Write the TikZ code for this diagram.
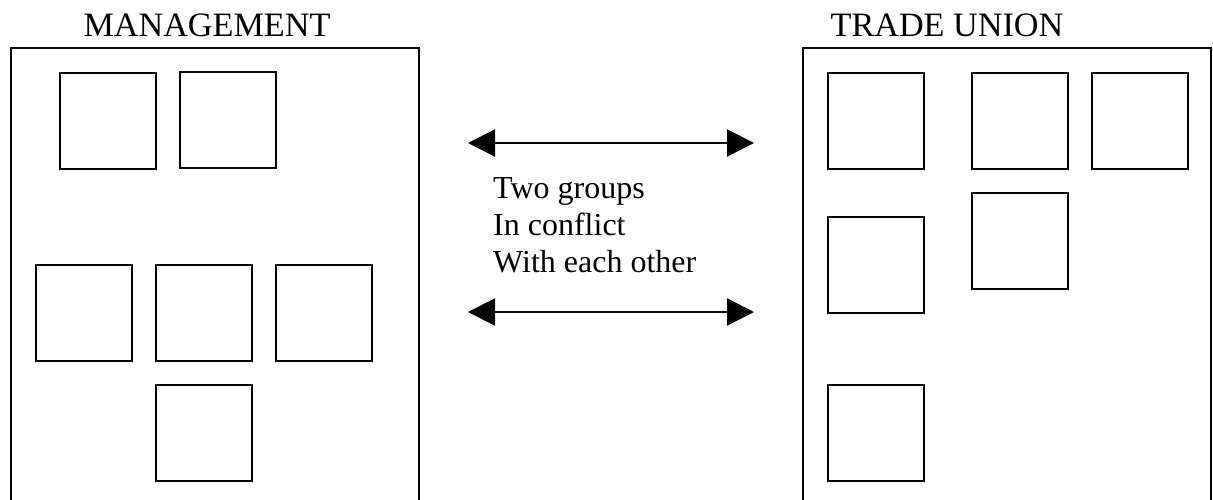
\documentclass[tikz,border=0pt]{standalone}
\usepackage{fontspec}
\setmainfont{Liberation Serif}
\usetikzlibrary{arrows.meta}
\begin{document}
\begin{tikzpicture}[x=1pt,y=-1pt,
  member/.style={draw=black,line width=2pt,minimum width=96pt,minimum height=96pt,inner sep=0pt,anchor=north west},
  frame/.style={draw=black,line width=2pt},
  heading/.style={font=\fontsize{34.2}{41}\selectfont,anchor=base,inner sep=0pt},
  caption/.style={font=\fontsize{32}{38}\selectfont,anchor=base west,inner sep=0pt},
  both/.style={line width=2.2pt,{Triangle[length=27pt,width=27pt]}-{Triangle[length=27pt,width=27pt]}}]
\useasboundingbox (0,0) rectangle (1213,499);
% group frames, open at the bottom
\draw[frame] (11,505) -- (11,48) -- (419,48) -- (419,505);
\draw[frame] (803,505) -- (803,48) -- (1211,48) -- (1211,505);
% headings
\node[heading] (mgmt) at (207,36) {MANAGEMENT};
\node[heading] (union) at (947,36) {TRADE UNION};
% management members
\node[member] (m1) at (59,72) {};
\node[member] (m2) at (179,71) {};
\node[member] (m3) at (35,264) {};
\node[member] (m4) at (155,264) {};
\node[member] (m5) at (275,264) {};
\node[member] (m6) at (155,384) {};
% trade union members
\node[member] (u1) at (827,72) {};
\node[member] (u2) at (971,72) {};
\node[member] (u3) at (1091,72) {};
\node[member] (u4) at (971,192) {};
\node[member] (u5) at (827,216) {};
\node[member] (u6) at (827,384) {};
% conflict arrows
\coordinate (a1l) at (468,143);
\coordinate (a1r) at (754,143);
\coordinate (a2l) at (468,312);
\coordinate (a2r) at (754,312);
\draw[both] (a1l) -- (a1r);
\draw[both] (a2l) -- (a2r);
% caption
\node[caption] (t1) at (493,198) {Two groups};
\node[caption] (t2) at (493,235) {In conflict};
\node[caption] (t3) at (493,272) {With each other};
\end{tikzpicture}
\end{document}
